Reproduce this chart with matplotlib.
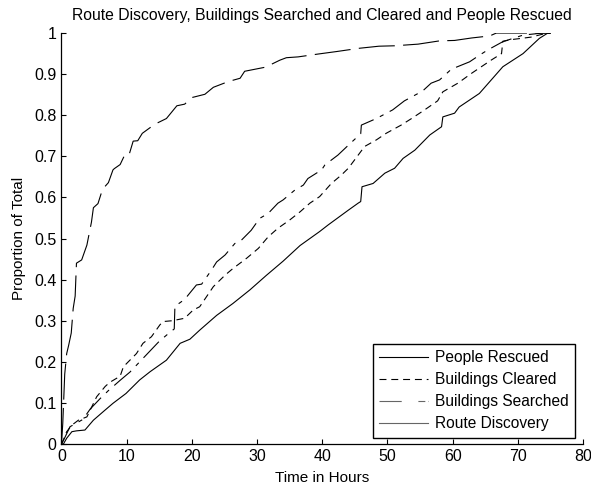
import numpy as np
import matplotlib
matplotlib.use('Agg')
import matplotlib.pyplot as plt
from matplotlib.lines import Line2D
from matplotlib.ticker import FuncFormatter

plt.rcParams['font.family'] = ['Liberation Sans', 'DejaVu Sans']
plt.rcParams['lines.scale_dashes'] = False

# hours vs proportion
route_x = [0, 0.2, 0.5, 0.8, 1.1, 1.5, 1.8, 2.1, 2.3, 3.1, 3.9, 4.6, 4.9, 5.6, 6.3, 7.2, 7.9,
           8.1, 9.0, 9.6, 10.3, 11.0, 11.7, 12.4, 14.3, 16.1, 17.7, 18.9, 20.0, 22.0, 23.3,
           25.6, 27.4, 28.1, 31.3, 33.5, 34.5, 36.3, 39.4, 42.2, 45.7, 48.7, 51.1, 54.7,
           58.0, 60.3, 62.9, 65.7, 66.7, 69.2, 75.0]
route_y = [0, 0.05, 0.17, 0.22, 0.24, 0.27, 0.33, 0.36, 0.44, 0.448, 0.484, 0.54, 0.575,
           0.585, 0.62, 0.636, 0.667, 0.67, 0.68, 0.70, 0.70, 0.737, 0.738, 0.756, 0.778,
           0.792, 0.823, 0.827, 0.843, 0.851, 0.868, 0.882, 0.89, 0.907, 0.917, 0.934, 0.94,
           0.942, 0.949, 0.955, 0.963, 0.968, 0.969, 0.973, 0.981, 0.982, 0.988, 0.993,
           1.0, 1.0, 1.0]

searched_x = [0, 0.5, 1.3, 2.1, 3.3, 4.4, 5.9, 7.2, 9.0, 10.5, 12.0, 13.5, 15.0, 16.5, 17.3,
              17.4, 18.9, 20.7, 21.5, 23.0, 23.8, 25.1, 26.6, 27.6, 29.1, 30.4, 31.7, 33.2,
              34.0, 35.8, 37.1, 37.8, 39.9, 40.4, 42.4, 44.2, 45.9, 46.0, 48.3, 50.8, 52.6,
              55.4, 56.7, 58.0, 59.8, 62.6, 64.1, 65.4, 67.7, 70.8, 73.8, 75.0]
searched_y = [0, 0.015, 0.042, 0.049, 0.06, 0.085, 0.11, 0.13, 0.155, 0.175, 0.2, 0.225,
              0.25, 0.27, 0.28, 0.335, 0.352, 0.387, 0.389, 0.423, 0.443, 0.46, 0.488, 0.496,
              0.52, 0.549, 0.561, 0.586, 0.594, 0.618, 0.63, 0.646, 0.667, 0.679, 0.703, 0.73,
              0.755, 0.776, 0.792, 0.813, 0.835, 0.859, 0.878, 0.886, 0.912, 0.93, 0.946,
              0.959, 0.979, 0.995, 1.0, 1.0]

cleared_x = [0, 0.3, 0.8, 1.6, 2.6, 3.9, 5.4, 6.7, 7.4, 9.0, 9.5, 11.5, 12.5, 13.8, 15.1,
             15.6, 17.0, 18.9, 20.2, 21.2, 23.3, 25.1, 26.3, 28.4, 30.2, 31.7, 33.2, 35.0,
             36.6, 38.1, 39.6, 41.4, 42.9, 44.0, 45.7, 46.5, 48.3, 49.8, 52.1, 53.7, 55.7,
             57.7, 58.5, 60.8, 62.9, 64.4, 65.9, 67.5, 67.7, 69.0, 72.0, 74.5, 75.0]
cleared_y = [0, 0.01, 0.03, 0.046, 0.058, 0.066, 0.115, 0.14, 0.15, 0.165, 0.188, 0.22,
             0.245, 0.261, 0.29, 0.298, 0.30, 0.306, 0.326, 0.334, 0.383, 0.411, 0.427,
             0.452, 0.476, 0.504, 0.525, 0.545, 0.565, 0.586, 0.602, 0.634, 0.654, 0.671,
             0.707, 0.724, 0.74, 0.756, 0.776, 0.792, 0.813, 0.835, 0.857, 0.878, 0.902,
             0.918, 0.934, 0.95, 0.98, 0.984, 0.99, 1.0, 1.0]

rescued_x = [0, 0.3, 0.8, 1.6, 2.3, 3.6, 4.9, 6.5, 7.9, 9.9, 12.0, 13.6, 16.1, 18.2, 19.7,
             21.2, 23.8, 26.3, 28.9, 31.4, 34.0, 36.6, 39.6, 40.9, 44.0, 45.5, 45.9, 46.1,
             47.8, 49.6, 51.1, 52.4, 54.2, 56.5, 58.3, 58.5, 60.3, 61.0, 64.1, 67.7, 70.8,
             73.3, 74.6, 75.0]
rescued_y = [0, 0, 0.014, 0.03, 0.032, 0.034, 0.058, 0.08, 0.099, 0.123, 0.156, 0.176,
             0.204, 0.245, 0.255, 0.277, 0.313, 0.342, 0.375, 0.41, 0.445, 0.483, 0.517,
             0.533, 0.569, 0.586, 0.59, 0.626, 0.634, 0.659, 0.671, 0.695, 0.715, 0.752,
             0.772, 0.796, 0.805, 0.82, 0.853, 0.918, 0.95, 0.987, 1.0, 1.0]

labels = ['People Rescued', 'Buildings Cleared', 'Buildings Searched', 'Route Discovery']

fig = plt.figure(figsize=(5.91, 4.86), dpi=100)
ax = fig.add_axes([0.104, 0.0864, 0.8825, 0.8456])

lw = 0.8
ax.plot(rescued_x, rescued_y, color='k', lw=lw)
ax.plot(cleared_x, cleared_y, color='k', lw=lw, dashes=(5, 3.5))
ax.plot(searched_x, searched_y, color='k', lw=lw, dashes=(16, 5, 3, 5))
ax.plot(route_x, route_y, color='k', lw=lw, dashes=(26, 6))

ax.set_xlim(0, 80)
ax.set_ylim(0, 1)
ax.set_xticks(np.arange(0, 81, 10))
ax.set_yticks(np.arange(0, 1.01, 0.1))
ax.yaxis.set_major_formatter(FuncFormatter(lambda v, p: '%g' % round(v, 1)))
ax.tick_params(direction='in', length=3.6, width=0.8, labelsize=11.5, pad=3.5)
for s in ['top', 'right']:
    ax.spines[s].set_visible(False)
for s in ['left', 'bottom']:
    ax.spines[s].set_linewidth(0.9)

ax.set_title('Route Discovery, Buildings Searched and Cleared and People Rescued',
             fontsize=11.3, pad=9.5)
ax.set_xlabel('Time in Hours', fontsize=11, labelpad=5)
ax.set_ylabel('Proportion of Total', fontsize=11, labelpad=6)

handles = [Line2D([], [], color='k', lw=lw),
           Line2D([], [], color='k', lw=lw, dashes=(5, 3.5)),
           Line2D([], [], color='#666666', lw=lw, dashes=(16, 12, 5, 2)),
           Line2D([], [], color='#666666', lw=lw)]
leg = ax.legend(handles, labels, loc='lower right', bbox_to_anchor=(0.984, 0.0146),
                borderaxespad=0, fontsize=11.2, fancybox=False, framealpha=1,
                handlelength=3.1, handletextpad=0.45, labelspacing=0.45, borderpad=0.42)
leg.get_frame().set_edgecolor('k')
leg.get_frame().set_linewidth(1.0)

fig.savefig('out.png', dpi=100)
